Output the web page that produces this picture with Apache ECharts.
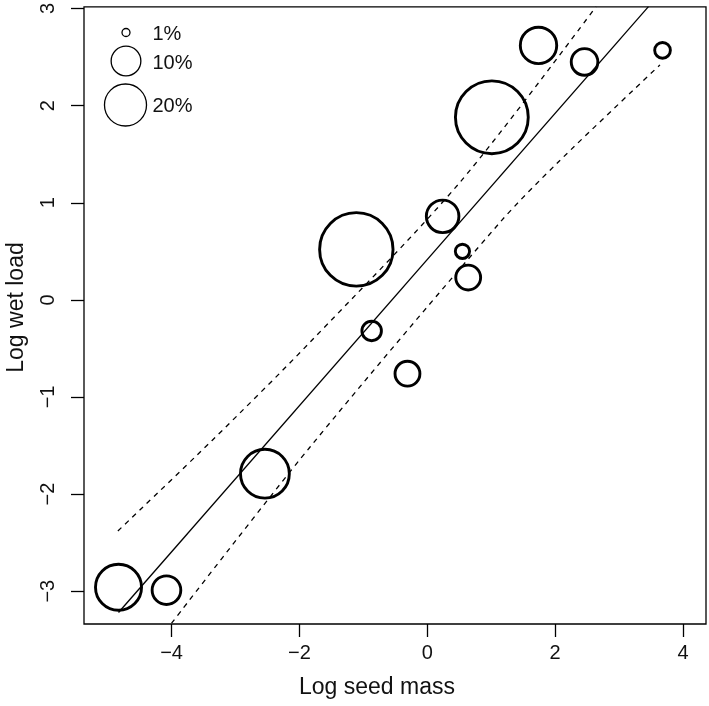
<!DOCTYPE html>
<html>
<head>
<meta charset="utf-8">
<script src="https://cdn.jsdelivr.net/npm/echarts@6/dist/echarts.min.js"></script>
<style>
html,body{margin:0;padding:0;background:#fff;}
#c{width:709px;height:706px;}
</style>
</head>
<body>
<div id="c"></div>
<script>
// ---- data ----
const seedMass = [1.74, 2.46, 3.68, 1.01, -1.11, 0.24, 0.55, 0.64, -0.87, -0.31, -2.54, -4.83, -4.08];
const wetLoad  = [2.62, 2.45, 2.57, 1.88, 0.52, 0.86, 0.50, 0.23, -0.32, -0.76, -1.79, -2.96, -2.99];
const percent  = [15, 8, 2.8, 60, 61, 12, 2.3, 7, 4.3, 7, 27, 24, 9.3];

const fitX = [-4.83, 3.46];
const fitY = [-3.22, 3.02];
const upperX = [-4.84, -3.37, -1.84, 0.51, 2.64];
const upperY = [-2.38, -1.45, -0.44, 1.21, 3.02];
const lowerX = [-4.00, -1.84, 1.14, 2.05, 3.64];
const lowerY = [-3.33, -1.52, 0.80, 1.42, 2.42];

const xTicks = [-4, -2, 0, 2, 4];
const yTicks = [-3, -2, -1, 0, 1, 2, 3];
const legendPct = [1, 10, 20];
const legendLabels = ['1%', '10%', '20%'];

const xTitle = 'Log seed mass';
const yTitle = 'Log wet load';

// ---- rendering ----
const K = 4.7; // radius per sqrt(percent)
const FONT = '"Liberation Sans", Arial, Helvetica, sans-serif';
const fmt = v => (v < 0 ? '\u2212' + Math.abs(v) : String(v));
const zip = (a, b) => a.map((v, i) => [v, b[i]]);

const chart = echarts.init(document.getElementById('c'), null, {renderer: 'canvas'});

const legendPos = [[126, 32.5], [126, 61], [125.5, 105]];
const graphics = [];
legendPct.forEach((p, i) => {
  graphics.push({
    type: 'circle',
    shape: {cx: legendPos[i][0], cy: legendPos[i][1], r: K * Math.sqrt(p) * (i === 0 ? 0.85 : 1)},
    style: {fill: 'none', stroke: '#000', lineWidth: 1.3},
    silent: true
  });
  graphics.push({
    type: 'text',
    x: 152.5, y: [34.5, 63.5, 106][i],
    style: {text: legendLabels[i], font: '20px ' + FONT, fill: '#111', textAlign: 'left', textVerticalAlign: 'middle'},
    silent: true
  });
});
graphics.push({
  type: 'text', x: 377, y: 688,
  style: {text: xTitle, font: '23px ' + FONT, fill: '#111', textAlign: 'center', textVerticalAlign: 'middle'},
  silent: true
});
graphics.push({
  type: 'text', x: 17, y: 307.5, rotation: Math.PI / 2,
  style: {text: yTitle, font: '23px ' + FONT, fill: '#111', textAlign: 'center', textVerticalAlign: 'middle'},
  silent: true
});

chart.setOption({
  animation: false,
  backgroundColor: '#fff',
  grid: {left: 84, right: 3, top: 3, bottom: 82, show: true, borderColor: '#000', borderWidth: 1.3, backgroundColor: 'transparent'},
  xAxis: {
    type: 'value', min: -5.37, max: 4.36, position: 'bottom',
    axisLine: {show: false, onZero: false},
    splitLine: {show: false},
    axisTick: {show: true, length: 13, inside: false, customValues: xTicks, lineStyle: {color: '#000', width: 1.3}},
    axisLabel: {show: true, customValues: xTicks, formatter: fmt, margin: 19, fontSize: 20, fontFamily: FONT, color: '#111'}
  },
  yAxis: {
    type: 'value', min: -3.338, max: 3.018, position: 'left',
    axisLine: {show: false, onZero: false},
    splitLine: {show: false},
    axisTick: {show: true, length: 13, inside: false, customValues: yTicks, lineStyle: {color: '#000', width: 1.3}},
    axisLabel: {show: true, customValues: yTicks, formatter: fmt, rotate: 90, margin: 26, fontSize: 20, fontFamily: FONT, color: '#111'}
  },
  series: [
    {type: 'line', data: zip(fitX, fitY), symbol: 'none', clip: true, lineStyle: {color: '#000', width: 1.3}, silent: true},
    {type: 'line', data: zip(upperX, upperY), smooth: 0.3, symbol: 'none', clip: true, lineStyle: {color: '#000', width: 1.3, type: [5, 5]}, silent: true},
    {type: 'line', data: zip(lowerX, lowerY), smooth: 0.3, symbol: 'none', clip: true, lineStyle: {color: '#000', width: 1.3, type: [5, 5]}, silent: true},
    {
      type: 'scatter',
      data: seedMass.map((x, i) => [x, wetLoad[i], percent[i]]),
      symbol: 'circle',
      symbolSize: d => 2 * K * Math.sqrt(d[2]),
      clip: false,
      itemStyle: {color: 'rgba(0,0,0,0)', borderColor: '#000', borderWidth: 2.9, opacity: 1},
      silent: true
    }
  ],
  graphic: graphics
});
</script>
</body>
</html>
